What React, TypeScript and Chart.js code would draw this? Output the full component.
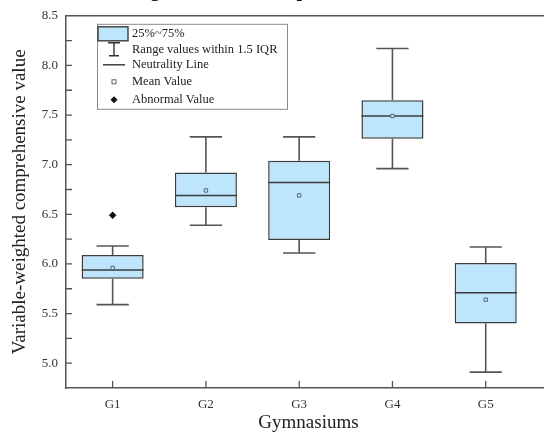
import React, { useEffect, useRef } from "react";
import { Chart, registerables } from "chart.js";

Chart.register(...registerables);

const categories = ["G1", "G2", "G3", "G4", "G5"];
const whiskerLow = [5.59, 6.39, 6.11, 6.96, 4.91];
const q1 = [5.85, 6.57, 6.24, 7.26, 5.4];
const median = [5.94, 6.69, 6.82, 7.49, 5.71];
const q3 = [6.09, 6.92, 7.04, 7.65, 6.01];
const whiskerHigh = [6.18, 7.28, 7.28, 8.17, 6.17];
const means = [5.96, 6.74, 6.69, 7.49, 5.64];
const outlierGroups = [1];
const outlierValues = [6.49];
const legendLabels = [
  "25%~75%",
  "Range values within 1.5 IQR",
  "Neutrality Line",
  "Mean Value",
  "Abnormal Value",
];
const titleText = "Weighted Score Comparison";

const BOX_FILL = "#bde5fb";
const BOX_EDGE = "#3c3c3c";
const WHISKER = "#555555";
const AXIS = "#555555";
const FONT = "'Liberation Serif', 'Times New Roman', serif";

const boxPlugin = {
  id: "boxDetails",
  afterDatasetDraw(chart: any, args: any) {
    if (args.meta.type !== "bar") return;
    const ctx = chart.ctx;
    const y = chart.scales.y;
    ctx.save();
    args.meta.data.forEach((bar: any, i: number) => {
      const cx = bar.x;
      const half = bar.width / 2;
      const cap = half * 0.52;
      const yHi = y.getPixelForValue(whiskerHigh[i]);
      const yQ3 = y.getPixelForValue(q3[i]);
      const yQ1 = y.getPixelForValue(q1[i]);
      const yLo = y.getPixelForValue(whiskerLow[i]);
      const yMed = y.getPixelForValue(median[i]);
      ctx.strokeStyle = WHISKER;
      ctx.lineWidth = 1.6;
      ctx.beginPath();
      ctx.moveTo(cx, yQ3);
      ctx.lineTo(cx, yHi);
      ctx.moveTo(cx - cap, yHi);
      ctx.lineTo(cx + cap, yHi);
      ctx.moveTo(cx, yQ1);
      ctx.lineTo(cx, yLo);
      ctx.moveTo(cx - cap, yLo);
      ctx.lineTo(cx + cap, yLo);
      ctx.stroke();
      ctx.strokeStyle = BOX_EDGE;
      ctx.lineWidth = 1.5;
      ctx.beginPath();
      ctx.moveTo(cx - half, yMed);
      ctx.lineTo(cx + half, yMed);
      ctx.stroke();
    });
    ctx.restore();
  },
  afterDraw(chart: any) {
    const ctx = chart.ctx;
    const { left, top, right, bottom } = chart.chartArea;
    const xs = chart.scales.x;
    const ys = chart.scales.y;
    ctx.save();
    // frame top and right
    ctx.strokeStyle = AXIS;
    ctx.lineWidth = 1.5;
    ctx.beginPath();
    ctx.moveTo(left, top);
    ctx.lineTo(right, top);
    ctx.lineTo(right, bottom);
    ctx.stroke();
    // inward ticks
    ctx.lineWidth = 1.3;
    ctx.beginPath();
    ys.ticks.forEach((t: any) => {
      if (t.value <= ys.min + 1e-6 || t.value >= ys.max - 1e-6) return;
      const py = ys.getPixelForValue(t.value);
      ctx.moveTo(left, py);
      ctx.lineTo(left + 6, py);
    });
    xs.ticks.forEach((t: any) => {
      const px = xs.getPixelForValue(t.value);
      ctx.moveTo(px, bottom);
      ctx.lineTo(px, bottom - 7);
    });
    ctx.stroke();

    // legend
    const L = left + 31;
    const T = top + 8;
    const W = 190;
    const H = 85;
    ctx.fillStyle = "#ffffff";
    ctx.fillRect(L, T, W, H);
    ctx.strokeStyle = "#8a8a8a";
    ctx.lineWidth = 1;
    ctx.strokeRect(L + 0.5, T + 0.5, W, H);
    const rows = [10, 26, 41, 58, 76];
    const sx = L + 17;
    // row 1: box
    ctx.fillStyle = BOX_FILL;
    ctx.fillRect(L + 1, T + 3, 30, 14);
    ctx.strokeStyle = BOX_EDGE;
    ctx.lineWidth = 1.4;
    ctx.strokeRect(L + 1, T + 3, 30, 14);
    // row 2: whisker I
    ctx.strokeStyle = "#333";
    ctx.lineWidth = 1.4;
    ctx.beginPath();
    ctx.moveTo(sx - 6, T + 19);
    ctx.lineTo(sx + 6, T + 19);
    ctx.moveTo(sx, T + 19);
    ctx.lineTo(sx, T + 32);
    ctx.moveTo(sx - 5, T + 32);
    ctx.lineTo(sx + 5, T + 32);
    ctx.stroke();
    // row 3: line
    ctx.beginPath();
    ctx.moveTo(L + 6, T + rows[2]);
    ctx.lineTo(L + 28, T + rows[2]);
    ctx.stroke();
    // row 4: mean square
    ctx.strokeStyle = "#666";
    ctx.lineWidth = 1;
    ctx.strokeRect(sx - 2, T + rows[3] - 2, 4, 4);
    // row 5: diamond
    ctx.fillStyle = "#111";
    ctx.beginPath();
    ctx.moveTo(sx, T + rows[4] - 3.5);
    ctx.lineTo(sx + 3.5, T + rows[4]);
    ctx.lineTo(sx, T + rows[4] + 3.5);
    ctx.lineTo(sx - 3.5, T + rows[4]);
    ctx.closePath();
    ctx.fill();
    // texts
    ctx.fillStyle = "#222";
    ctx.font = `12.5px ${FONT}`;
    ctx.textBaseline = "middle";
    ctx.textAlign = "left";
    legendLabels.forEach((lab, i) => {
      ctx.fillText(lab, L + 35, T + rows[i]);
    });
    ctx.restore();
  },
};

export default function App() {
  const canvasRef = useRef<HTMLCanvasElement | null>(null);

  useEffect(() => {
    if (!canvasRef.current) return;
    const chart = new Chart(canvasRef.current, {
      type: "bar",
      data: {
        datasets: [
          {
            type: "bar",
            label: "Box",
            data: categories.map((_, i) => ({ x: i + 1, y: [q1[i], q3[i]] })) as any,
            backgroundColor: BOX_FILL,
            borderColor: BOX_EDGE,
            borderWidth: 1.5,
            borderSkipped: false,
            categoryPercentage: 1,
            barPercentage: 0.665,
            order: 3,
          } as any,
          {
            type: "line",
            label: "Mean",
            data: categories.map((_, i) => ({ x: i + 1, y: means[i] })),
            showLine: false,
            pointStyle: "rect",
            pointRadius: 2.4,
            pointBackgroundColor: BOX_FILL,
            pointBorderColor: "#5a6575",
            pointBorderWidth: 1,
            order: 1,
          } as any,
          {
            type: "line",
            label: "Outlier",
            data: outlierGroups.map((g, i) => ({ x: g, y: outlierValues[i] })),
            showLine: false,
            pointStyle: "rectRot",
            pointRadius: 3.5,
            pointBackgroundColor: "#111",
            pointBorderColor: "#111",
            pointBorderWidth: 0.5,
            order: 1,
          } as any,
        ],
      },
      options: {
        animation: false,
        responsive: true,
        maintainAspectRatio: false,
        layout: { padding: { top: 15, right: 14, left: 0, bottom: 0 } },
        plugins: {
          legend: { display: false },
          tooltip: { enabled: false },
          title: { display: false },
        },
        scales: {
          x: {
            type: "linear",
            offset: false,
            min: 0.5,
            max: 5.7,
            afterBuildTicks: (scale: any) => {
              scale.ticks = categories.map((_, i) => ({ value: i + 1 }));
            },
            afterFit: (scale: any) => {
              scale.height = 49;
            },
            grid: { display: false, drawTicks: false, offset: false },
            border: { display: true, color: AXIS, width: 1.5 },
            ticks: {
              padding: 9,
              color: "#333",
              font: { family: FONT, size: 13 },
              callback: (v: any) => categories[Number(v) - 1] ?? "",
            },
            title: {
              display: true,
              text: "Gymnasiums",
              color: "#222",
              font: { family: FONT, size: 19 },
              padding: { top: 3, bottom: 3 },
            },
          },
          y: {
            type: "linear",
            min: 4.75,
            max: 8.5,
            afterFit: (scale: any) => {
              scale.width = 66;
            },
            grid: { display: false, drawTicks: false },
            border: { display: true, color: AXIS, width: 1.5 },
            ticks: {
              stepSize: 0.25,
              autoSkip: false,
              padding: 8,
              color: "#333",
              font: { family: FONT, size: 13 },
              callback: (v: any) => {
                const n = Number(v);
                return Math.abs(n * 2 - Math.round(n * 2)) < 1e-6 ? n.toFixed(1) : "";
              },
            },
            title: {
              display: true,
              text: "Variable-weighted comprehensive value",
              color: "#222",
              font: { family: FONT, size: 19 },
              padding: { top: 9, bottom: 4 },
            },
          },
        },
      } as any,
      plugins: [boxPlugin],
    });
    return () => chart.destroy();
  }, []);

  return (
    <div
      style={{
        position: "fixed",
        left: 0,
        top: 0,
        width: 544,
        height: 437,
        overflow: "hidden",
        background: "#fff",
      }}
    >
      <div style={{ position: "relative", width: 565, height: 437 }}>
        <canvas ref={canvasRef} />
      </div>
      <div
        style={{
          position: "absolute",
          left: 117,
          top: -21,
          fontFamily: FONT,
          fontWeight: "bold",
          fontSize: 20,
          lineHeight: "20px",
          whiteSpace: "nowrap",
          color: "#111",
        }}
      >
        {titleText}
      </div>
    </div>
  );
}
